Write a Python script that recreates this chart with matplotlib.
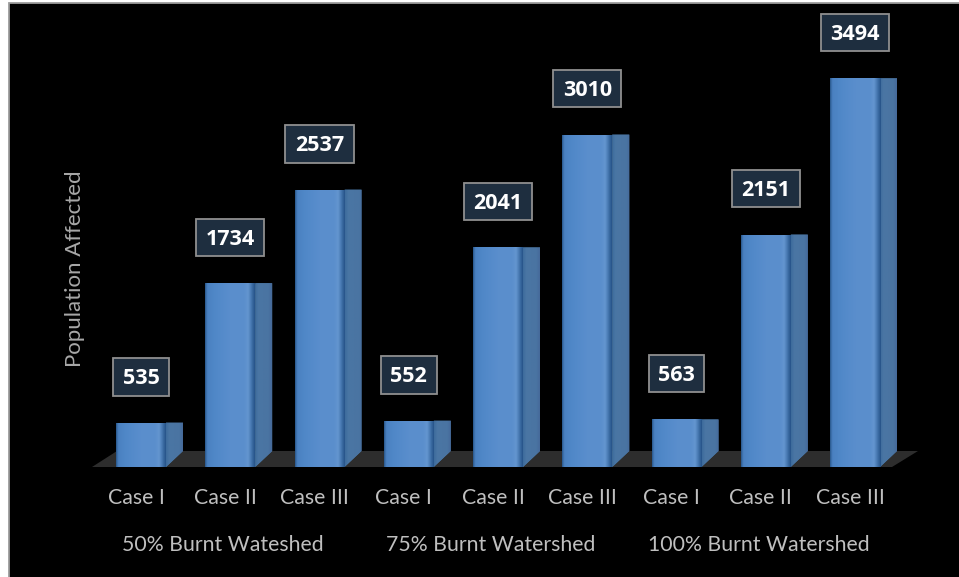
import matplotlib
matplotlib.use("Agg")
import matplotlib.pyplot as plt
import numpy as np
from matplotlib.patches import Rectangle, Polygon
from matplotlib.path import Path
from matplotlib.colors import LinearSegmentedColormap

# ---- data -------------------------------------------------------------
groups = ["50% Burnt Wateshed", "75% Burnt Watershed", "100% Burnt Watershed"]
cases = ["Case I", "Case II", "Case III"]
population = [535, 1734, 2537, 552, 2041, 3010, 563, 2151, 3494]
y_title = "Population Affected"

# ---- geometry (pixels of a 959x577 canvas) ------------------------------
W, H, DPI = 959, 577, 100
X0_PX, STEP_PX = 141.0, 89.25          # centre of first front face, bar pitch
ZERO_PX, PX_PER_UNIT = 485.0, 0.11639  # value-axis zero (from top) and scale
FLOOR_BOT_PX, FLOOR_TOP_PX = 467.0, 451.0
FRONT_W_PX, SIDE_W_PX = 50.0, 17.0

def vx(px):   # horizontal pixel -> bar index units
    return (px - X0_PX) / STEP_PX

def vy(py):   # vertical pixel (from top) -> value units
    return (ZERO_PX - py) / PX_PER_UNIT

def label_box(x0, y0, width, height, mutation_size):
    """Rectangle with separate horizontal / vertical padding around a label."""
    padx = 0.44 * mutation_size
    box_h = 1.74 * mutation_size
    cy = y0 + height / 2 + 0.09 * mutation_size
    l, r = x0 - padx, x0 + width + padx
    b, t = cy - box_h / 2, cy + box_h / 2
    return Path([(l, b), (r, b), (r, t), (l, t), (l, b)],
                [Path.MOVETO, Path.LINETO, Path.LINETO, Path.LINETO,
                 Path.CLOSEPOLY])

fig = plt.figure(figsize=(W / DPI, H / DPI), dpi=DPI, facecolor="white")

# black chart area with a thin grey frame
fig.patches.append(Rectangle((8.5 / W, -0.02), 1.05, 1 - 3.5 / H + 0.02,
                             transform=fig.transFigure, facecolor="black",
                             edgecolor="#9c9c9c", linewidth=1.3, zorder=-5))

ax = fig.add_axes([0, 0, 1, 1])
ax.set_facecolor("none")
ax.axis("off")
ax.set_zorder(2)

xlim = (vx(0), vx(W))
ylim = (vy(H), vy(0))

fw = FRONT_W_PX / STEP_PX
sw = SIDE_W_PX / STEP_PX
floor_val = vy(FLOOR_BOT_PX)
floor_top_val = vy(FLOOR_TOP_PX)
x = np.arange(len(population))

# floor slab
floor = Polygon([(vx(92), floor_val), (vx(892), floor_val),
                 (vx(918), floor_top_val), (vx(117), floor_top_val)],
                closed=True, facecolor="#2d2d2d", edgecolor="none", zorder=1)
ax.add_patch(floor)

# everything of the bars lives above the floor line
above_floor = Rectangle((xlim[0], floor_val), xlim[1] - xlim[0],
                        ylim[1] - floor_val, transform=ax.transData)

front_cmap = LinearSegmentedColormap.from_list("front", [
    (0.00, "#2c5b90"), (0.04, "#4a80c0"), (0.20, "#5088c8"),
    (0.50, "#5a8ecd"), (0.80, "#5b8fcc"), (0.87, "#6496d0"),
    (0.94, "#4273ab"), (1.00, "#28558a")])
side_cmap = LinearSegmentedColormap.from_list("side", [
    (0.00, "#3d6b9c"), (0.20, "#4a76a4"), (0.80, "#4a74a2"),
    (1.00, "#46699a")])
grad = np.linspace(0, 1, 64).reshape(1, -1)

for xi, val in zip(x, population):
    left = xi - fw / 2
    # front face
    front = ax.bar(left, val, width=fw, bottom=0, align="edge",
                   color="#5a8fcf", linewidth=0, zorder=3)[0]
    front.set_clip_path(above_floor)
    img = ax.imshow(grad, cmap=front_cmap, aspect="auto",
                    extent=[left, left + fw, floor_val, val],
                    interpolation="bilinear", zorder=3.5)
    img.set_clip_path(front)
    # side face with a slanted foot resting on the floor
    side = Polygon([(left + fw, val), (left + fw + sw, val),
                    (left + fw + sw, floor_top_val), (left + fw, floor_val)],
                   closed=True, facecolor="#4a77a3", edgecolor="none", zorder=3)
    ax.add_patch(side)
    simg = ax.imshow(grad, cmap=side_cmap, aspect="auto",
                     extent=[left + fw, left + fw + sw, floor_val, val],
                     interpolation="bilinear", zorder=3.4)
    simg.set_clip_path(side)

    # value label in a dark box above the bar
    ax.annotate(f"{val}", xy=(xi, val), xytext=(0, 44),
                textcoords="offset pixels", ha="center", va="center",
                fontsize=15.5, fontweight="bold", color="white",
                family=["Open Sans", "DejaVu Sans"], zorder=5,
                bbox=dict(boxstyle=label_box, facecolor="#1e2e3f",
                          edgecolor="#8f8f8f", linewidth=1.3))

# category labels under each bar
label_font = dict(fontsize=15.3, color="#bfbfbf", family=["Lato", "DejaVu Sans"])
for xi, case in zip(x, cases * len(groups)):
    ax.text(xi - 0.055, vy(498), case, ha="center", va="center", **label_font)

# group labels
for gi, g in enumerate(groups):
    ax.text(gi * 3 + 1 - 0.08, vy(545), g, ha="center", va="center", **label_font)

# value-axis title
fig.text(75 / W, 1 - 269 / H, y_title, rotation=90, ha="center", va="center",
         fontsize=16, color="#a8a8a8", family=["Lato", "DejaVu Sans"], zorder=3)

ax.set_xlim(*xlim)
ax.set_ylim(*ylim)

fig.savefig("out.png", dpi=DPI, facecolor="white")
